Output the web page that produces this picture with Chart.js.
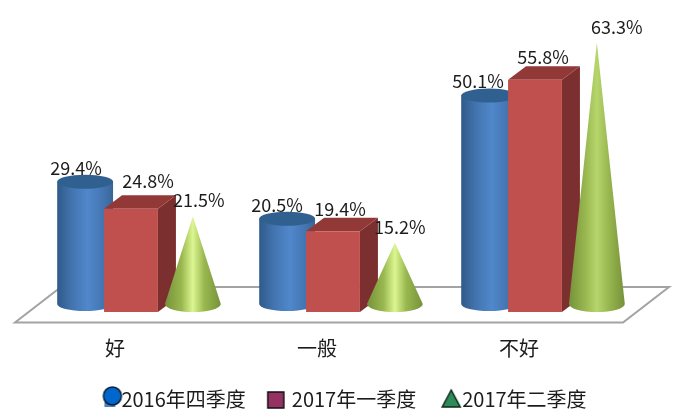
<!DOCTYPE html>
<html>
<head>
<meta charset="utf-8">
<script src="https://cdn.jsdelivr.net/npm/chart.js@4/dist/chart.umd.js"></script>
<style>
  html, body { margin: 0; padding: 0; background: #fff; }
  #wrap { width: 689px; height: 418px; }
</style>
</head>
<body>
<div id="wrap"><canvas id="chart"></canvas></div>
<script>
const categories = ['好', '一般', '不好'];
const seriesNames = ['2016年四季度', '2017年一季度', '2017年二季度'];
const q4of2016 = [29.4, 20.5, 50.1];
const q1of2017 = [24.8, 19.4, 55.8];
const q2of2017 = [21.5, 15.2, 63.3];

const FONT = '"Noto Sans CJK SC", "Noto Sans", sans-serif';
const INK = '#1c1c1c';

// data label nudges from the top of each bar element, per series and category
const labelNudgeX = [[-9, -10, -11], [17, 7, 8], [6, 5, 20]];
const labelNudgeY = [[-22, -22, -22], [-28, -22, -23], [-22, -22, -22]];
const shapeShift = [8, 0, 8]; // bars are not evenly spaced in the original
const coneShine = ['#dcf692', '#dcf692', '#b6d66c'];

// legend draws the canvas centred on its box, so the offset goes inside it
function marker(ox, oy, draw) {
  const c = document.createElement('canvas');
  c.width = 44;
  c.height = 44;
  const g = c.getContext('2d');
  g.translate(22 + ox, 22 + oy);
  draw(g);
  return c;
}

const legendMarks = [
  marker(5, -3, function(g) {
    g.fillStyle = '#4f81bd';
    g.fillRect(-8, 5, 11, 6);
    g.beginPath();
    g.arc(0, 0, 9, 0, Math.PI * 2);
    g.fillStyle = '#0066cc';
    g.fill();
    g.lineWidth = 1.5;
    g.strokeStyle = '#0b1d33';
    g.stroke();
  }),
  marker(-2, 1, function(g) {
    g.fillStyle = '#953163';
    g.fillRect(-8, -8, 16, 16);
    g.lineWidth = 1.5;
    g.strokeStyle = '#111';
    g.strokeRect(-8, -8, 16, 16);
  }),
  marker(3, 0, function(g) {
    g.beginPath();
    g.moveTo(0, -9);
    g.lineTo(9, 8);
    g.lineTo(-9, 8);
    g.closePath();
    g.fillStyle = '#2e8b57';
    g.fill();
    g.lineWidth = 1.5;
    g.strokeStyle = '#10281a';
    g.stroke();
  })
];

function hGradient(ctx, x0, x1, stops) {
  const g = ctx.createLinearGradient(x0, 0, x1, 0);
  stops.forEach(function(s) { g.addColorStop(s[0], s[1]); });
  return g;
}

function drawCylinder(ctx, cx, top, bottom, rx) {
  const ry = 7;
  ctx.beginPath();
  ctx.moveTo(cx - rx, top);
  ctx.lineTo(cx - rx, bottom);
  ctx.ellipse(cx, bottom, rx, ry, 0, Math.PI, 0, true);
  ctx.lineTo(cx + rx, top);
  ctx.closePath();
  ctx.fillStyle = hGradient(ctx, cx - rx, cx + rx, [[0, '#2f5a8a'], [0.25, '#4273ad'], [0.55, '#5088cc'], [0.85, '#4273ad'], [1, '#3a6696']]);
  ctx.fill();
  ctx.beginPath();
  ctx.ellipse(cx, top, rx, ry, 0, 0, Math.PI * 2);
  ctx.fillStyle = '#30608f';
  ctx.fill();
}

function drawBox(ctx, x, top, w, bottom) {
  const dx = 18, dy = 13.5;
  ctx.fillStyle = '#7b2f2e';
  ctx.beginPath();
  ctx.moveTo(x + w, top);
  ctx.lineTo(x + w + dx, top - dy);
  ctx.lineTo(x + w + dx, bottom - dy);
  ctx.lineTo(x + w, bottom);
  ctx.closePath();
  ctx.fill();
  ctx.fillStyle = '#923836';
  ctx.beginPath();
  ctx.moveTo(x, top);
  ctx.lineTo(x + dx, top - dy);
  ctx.lineTo(x + w + dx, top - dy);
  ctx.lineTo(x + w, top);
  ctx.closePath();
  ctx.fill();
  ctx.fillStyle = '#c0504d';
  ctx.fillRect(x, top, w, bottom - top);
}

function drawCone(ctx, cx, tip, baseY, rx, shine) {
  ctx.beginPath();
  ctx.moveTo(cx, tip);
  ctx.lineTo(cx + rx, baseY);
  ctx.ellipse(cx, baseY, rx, 8, 0, 0, Math.PI);
  ctx.closePath();
  ctx.fillStyle = hGradient(ctx, cx - rx, cx + rx, [[0, '#76923a'], [0.3, '#9ab850'], [0.5, shine], [0.7, '#9ab850'], [1, '#76923a']]);
  ctx.fill();
}

const floor3d = {
  id: 'floor3d',
  afterLayout: function(chart) {
    // legend row sits a little right of the plot centre
    chart.legend.left += 12;
    chart.legend.right += 12;
  },
  beforeDatasetsDraw: function(chart) {
    const ctx = chart.ctx, a = chart.chartArea, y0 = chart.scales.y.getPixelForValue(0);
    ctx.save();
    ctx.beginPath();
    ctx.moveTo(a.left - 15, y0 + 10.5);
    ctx.lineTo(a.right - 13, y0 + 10.5);
    ctx.lineTo(a.right + 33, y0 - 25);
    ctx.lineTo(a.left + 31, y0 - 25);
    ctx.closePath();
    ctx.fillStyle = '#fff';
    ctx.fill();
    ctx.lineWidth = 2;
    ctx.strokeStyle = '#a3a3a3';
    ctx.stroke();

    // 3D shapes, placed by the bar elements, first series at the back
    chart.data.datasets.forEach(function(ds, k) {
      chart.getDatasetMeta(k).data.forEach(function(el, i) {
        const cx = el.x + shapeShift[k], rx = el.width / 2 + 1;
        if (k === 0) {
          drawCylinder(ctx, cx, el.y - 8, el.base - 8, rx);
        } else if (k === 1) {
          drawBox(ctx, el.x - el.width / 2, el.y, el.width, el.base);
        } else {
          drawCone(ctx, cx, el.y - 6, el.base - 8, rx, coneShine[i]);
        }
      });
    });
    ctx.restore();
  },
  beforeDatasetDraw: function() {
    return false; // flat bars replaced above
  },
  afterDatasetsDraw: function(chart) {
    const ctx = chart.ctx;
    ctx.save();
    ctx.font = '18px ' + FONT;
    ctx.fillStyle = INK;
    ctx.textAlign = 'center';
    ctx.textBaseline = 'middle';
    chart.data.datasets.forEach(function(ds, k) {
      chart.getDatasetMeta(k).data.forEach(function(el, i) {
        const x = el.x + shapeShift[k] + labelNudgeX[k][i];
        ctx.fillText(ds.data[i].toFixed(1) + '%', x, el.y + labelNudgeY[k][i]);
      });
    });
    ctx.restore();
  }
};

new Chart(document.getElementById('chart'), {
  type: 'bar',
  data: {
    labels: categories,
    datasets: [
      { label: seriesNames[0], data: q4of2016, backgroundColor: '#4f81bd' },
      { label: seriesNames[1], data: q1of2017, backgroundColor: '#c0504d' },
      { label: seriesNames[2], data: q2of2017, backgroundColor: '#9bbb59' }
    ]
  },
  options: {
    responsive: true,
    maintainAspectRatio: false,
    animation: false,
    layout: { padding: { left: 30, right: 53, top: 0, bottom: -1 } },
    categoryPercentage: 0.8,
    barPercentage: 1,
    scales: {
      x: {
        grid: { display: false },
        border: { display: false },
        ticks: { padding: 16, labelOffset: -16, color: INK, font: { family: FONT, size: 20 }, maxRotation: 0 },
        afterFit: function(scale) { scale.height = 49; }
      },
      y: { display: false, min: 0, max: 75 }
    },
    plugins: {
      tooltip: { enabled: false },
      legend: {
        position: 'bottom',
        labels: {
          usePointStyle: true,
          boxWidth: 8,
          padding: 28,
          color: INK,
          font: { family: FONT, size: 20 },
          generateLabels: function(chart) {
            return chart.data.datasets.map(function(ds, k) {
              return { text: ds.label, pointStyle: legendMarks[k], datasetIndex: k, fontColor: INK, hidden: false, lineWidth: 0 };
            });
          }
        }
      }
    }
  },
  plugins: [floor3d]
});
</script>
</body>
</html>
